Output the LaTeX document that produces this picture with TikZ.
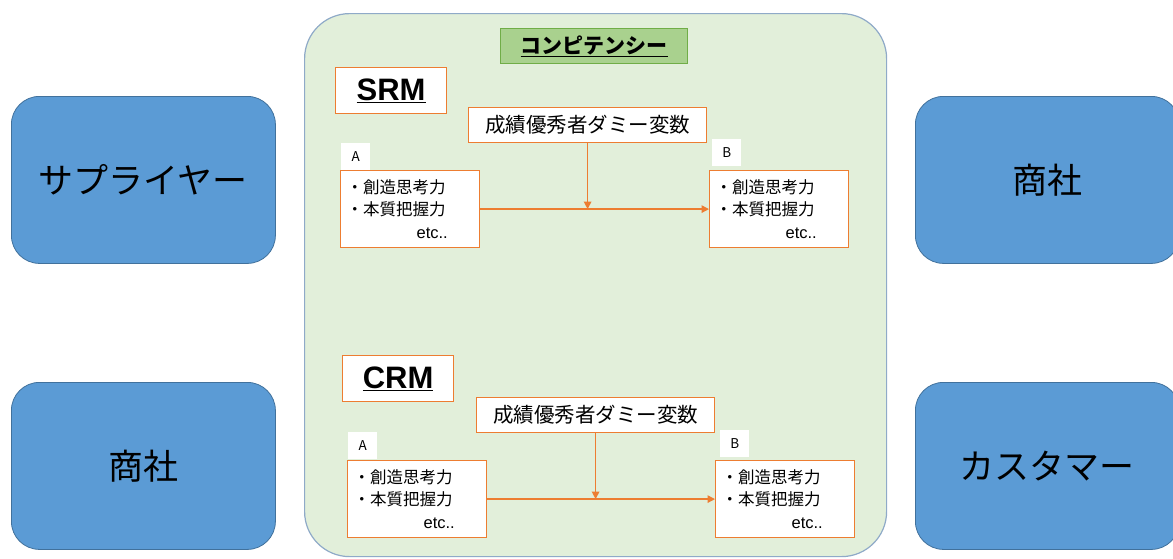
\documentclass[tikz,border=0pt]{standalone}
\usepackage{fontspec}
\setmainfont{Noto Sans CJK JP}
\newfontfamily\latinbold{Liberation Sans}
\usetikzlibrary{arrows.meta}
\definecolor{bluefill}{HTML}{5B9BD5}
\definecolor{blueline}{HTML}{41719C}
\definecolor{greenbg}{HTML}{E2EFDA}
\definecolor{greenline}{HTML}{8FAAC8}
\definecolor{titlefill}{HTML}{A9D18E}
\definecolor{titleline}{HTML}{70AD47}
\definecolor{orng}{HTML}{ED7D31}
\tikzset{
  actor/.style={draw=blueline, line width=0.8pt, fill=bluefill, rounded corners=28pt, anchor=north west, inner sep=0pt,
    minimum width=264pt, minimum height=167pt, font=\fontsize{35}{40}\selectfont},
  obox/.style={draw=orng, line width=1.2pt, fill=white, anchor=north west, inner sep=0pt},
  lbl/.style={fill=white, anchor=north west, inner sep=0pt, minimum width=29pt, minimum height=27pt, font=\fontsize{13.5}{15}\selectfont},
  dummy/.style={obox, minimum width=238pt, minimum height=35pt, font=\fontsize{20.5}{24}\selectfont},
  varbox/.style={obox, minimum width=139pt, minimum height=77pt, text width=127pt, align=left, font=\fontsize{16.5}{22.5}\selectfont},
  model/.style={obox, minimum width=111pt, minimum height=46pt, font=\latinbold\bfseries\fontsize{31}{34}\selectfont},
  arr/.style={draw=orng, line width=1.3pt, -{Triangle[width=7.5pt,length=7.5pt]}}
}
\newcommand{\vartext}{・創造思考力\\・本質把握力\\\hspace*{70pt}{\fontspec{Liberation Sans}etc..}}
\begin{document}
\begin{tikzpicture}[x=1pt,y=-1pt]
\useasboundingbox (0,0) rectangle (1173,558);
% container
\node[draw=greenline, line width=1.2pt, fill=greenbg, rounded corners=45pt, anchor=north west, inner sep=0pt,
  minimum width=582pt, minimum height=543pt] (comp) at (304,13) {};
\node[draw=titleline, line width=1pt, fill=titlefill, anchor=north west, inner sep=0pt,
  minimum width=187pt, minimum height=35pt, font=\bfseries\fontsize{21}{24}\selectfont] (title) at (500,28) {\underline{コンピテンシー}};
% actors
\node[actor] (sup) at (11,96) {サプライヤー};
\node[actor] (sha1) at (11,382) {商社};
\node[actor] (sha2) at (915,96) {商社};
\node[actor] (cus) at (915,382) {カスタマー};
% SRM
\node[model] (srm) at (335,67) {\underline{SRM}};
\node[dummy] (d1) at (468,107) {成績優秀者ダミー変数};
\node[lbl] (la1) at (341,143) {A};
\node[varbox] (a1) at (340,170) {\vartext};
\node[lbl] (lb1) at (712,139) {B};
\node[varbox] (b1) at (709,170) {\vartext};
\draw[arr] (a1.east) -- (b1.west);
\draw[arr] (d1.south) -- (d1.south |- a1.east);
% CRM
\node[model] (crm) at (342,355) {\underline{CRM}};
\node[dummy] (d2) at (476,397) {成績優秀者ダミー変数};
\node[lbl] (la2) at (348,432) {A};
\node[varbox] (a2) at (347,460) {\vartext};
\node[lbl] (lb2) at (720,430) {B};
\node[varbox] (b2) at (715,460) {\vartext};
\draw[arr] (a2.east) -- (b2.west);
\draw[arr] (d2.south) -- (d2.south |- a2.east);
\end{tikzpicture}
\end{document}
